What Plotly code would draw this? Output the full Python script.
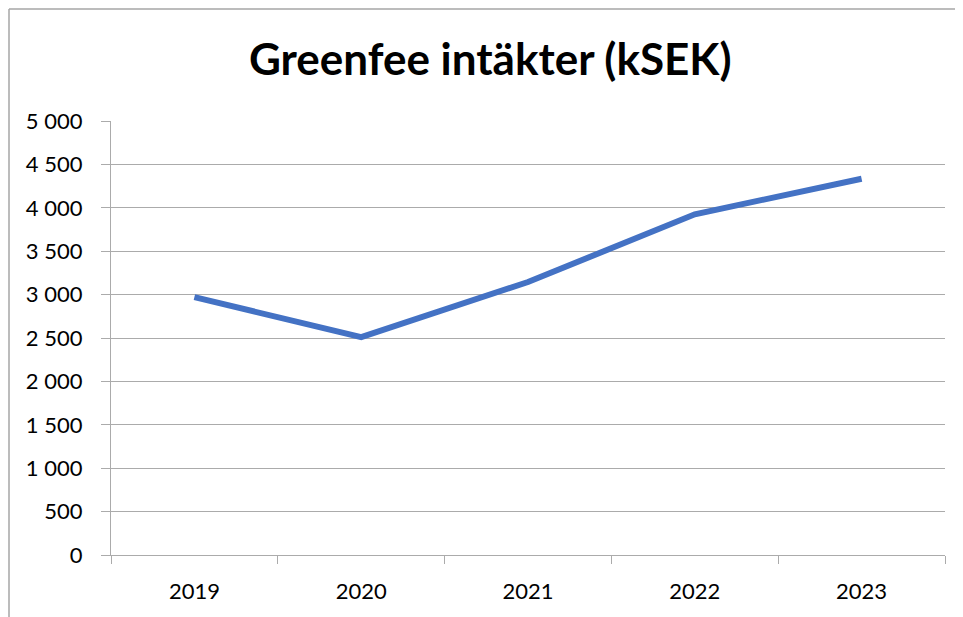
import plotly.graph_objects as go

years = ["2019", "2020", "2021", "2022", "2023"]
revenue = [2970, 2510, 3145, 3925, 4335]

y_ticks = list(range(0, 5001, 500))

FONT = "Lato, 'Open Sans', sans-serif"
GRID = "#ababab"

# plot area size in px (page body adds an 8px offset)
PW, PH = 834, 434
L, T = 103, 113

fig = go.Figure()
fig.add_trace(go.Scatter(
    x=years,
    y=revenue,
    mode="lines",
    line=dict(color="#4472C4", width=6),
    showlegend=False,
))

fig.update_layout(
    width=955,
    height=609,
    margin=dict(l=L, r=955 - L - PW, t=T, b=609 - T - PH),
    paper_bgcolor="white",
    plot_bgcolor="white",
    separators=", ",
    font=dict(family=FONT, size=22, color="#000000"),
    title=dict(
        text="<b>Greenfee intäkter (kSEK)</b>",
        x=0.505, xanchor="center",
        y=0.915, yanchor="middle",
        font=dict(family=FONT, size=44, color="#000000"),
    ),
    xaxis=dict(
        type="category",
        range=[-0.5, 4.5],
        showgrid=False,
        showline=True,
        linecolor=GRID,
        linewidth=1.3,
        ticks="outside",
        tickson="boundaries",
        ticklen=8,
        tickcolor=GRID,
        tickfont=dict(size=22),
        ticklabelstandoff=16,
    ),
    yaxis=dict(
        range=[0, 5000],
        tickvals=y_ticks,
        tickformat=",d",
        showgrid=True,
        gridcolor=GRID,
        gridwidth=1.3,
        showline=True,
        linecolor=GRID,
        linewidth=1.3,
        ticks="outside",
        ticklen=9,
        tickcolor=GRID,
        tickfont=dict(size=22),
        ticklabelstandoff=14,
        zeroline=False,
    ),
)

# outer chart border (cut off at right and bottom like the screenshot)
bx = -(L - 1) / PW
by = 1 + (T - 1) / PH
fig.add_shape(type="line", xref="paper", yref="paper",
              x0=bx, x1=1.2, y0=by, y1=by,
              line=dict(color="#a6a6a6", width=1.5))
fig.add_shape(type="line", xref="paper", yref="paper",
              x0=bx, x1=bx, y0=by, y1=-0.3,
              line=dict(color="#a6a6a6", width=1.5))

fig.write_html("out.html")
